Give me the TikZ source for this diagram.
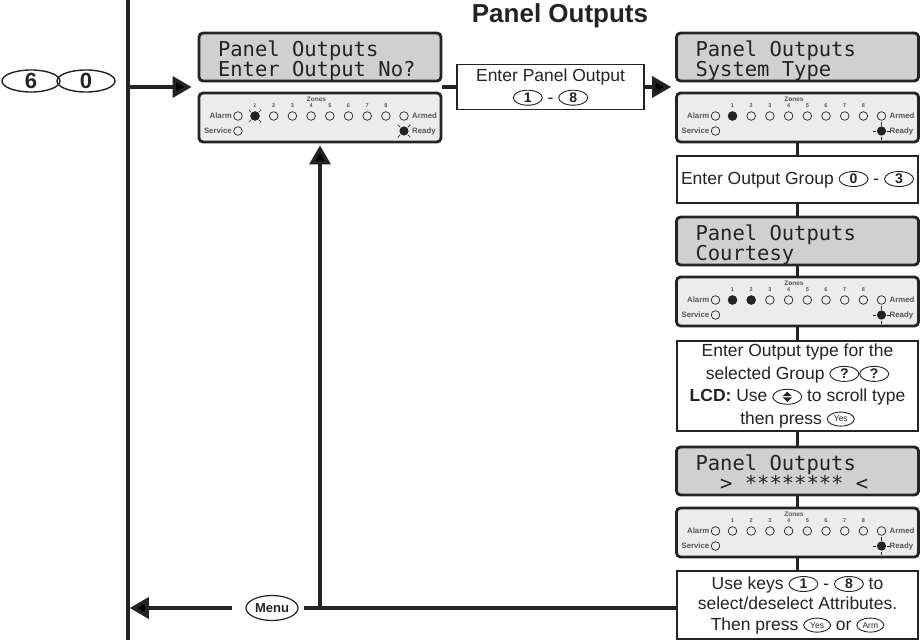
\documentclass[tikz,border=0pt]{standalone}
\usepackage{fontspec}
\setmainfont{Liberation Sans}
\newfontfamily\lcdfont{DejaVu Sans Mono}
\usepackage{tikz}
\usetikzlibrary{arrows.meta,shapes.geometric}

\definecolor{lcdgray}{RGB}{208,208,208}
\definecolor{ledgray}{RGB}{236,236,236}
\definecolor{ink}{RGB}{35,35,35}
\definecolor{labelgray}{RGB}{85,85,85}

\tikzset{
  keyoval/.style={ellipse,draw=ink,fill=white,line width=0.9pt,inner sep=0pt,
    minimum width=29pt,minimum height=15pt,text=ink,
    font=\bfseries\fontsize{14}{14}\selectfont},
  led/.style={draw=ink,line width=0.7pt},
  ray/.style={draw=ink,line width=0.7pt},
  zonetxt/.style={inner sep=0pt,text=labelgray,font=\bfseries\fontsize{6.5}{6.5}\selectfont},
  numtxt/.style={inner sep=0pt,text=labelgray,font=\bfseries\fontsize{5.5}{5.5}\selectfont},
  sidetxt/.style={inner sep=0pt,text=labelgray,font=\bfseries\fontsize{7.8}{7.8}\selectfont},
}

% one empty LCD character cell
\newcommand{\cell}{\hspace*{12.34pt}}

% keys printed inside the texts
\newcommand{\keycap}[1]{\tikz[baseline={([yshift=-0.5pt]k.base)}]\node[keyoval] (k) {#1};}
\newcommand{\smallkey}[1]{\tikz[baseline={([yshift=-2.3pt]k.base)}]\node[keyoval,minimum width=27pt,minimum height=14pt,font=\fontsize{8.5}{8.5}\selectfont] (k) {#1};}
\newcommand{\scrollkey}{\tikz[baseline={([yshift=-5pt]k.center)}]{%
  \node[keyoval] (k) {};
  \fill[ink] ([yshift=0.7pt]k.center) ++(-4.5pt,0pt) -- ++(4.5pt,4.5pt) -- ++(4.5pt,-4.5pt) -- cycle;
  \fill[ink] ([yshift=-0.7pt]k.center) ++(-4.5pt,0pt) -- ++(4.5pt,-4.5pt) -- ++(4.5pt,4.5pt) -- cycle;}}

% LED strip below a display: node, lit zones, flashing zones, first ray angle of Ready
\newcommand{\ledstrip}[4]{%
  \begin{scope}[shift={(#1.center)}]
    \node[zonetxt] at (-3.5,-18) {Zones};
    \foreach \z in {1,...,8} {
      \node[numtxt] at ({-65+(\z-1)*18.7},-11.5) {\z};
      \draw[led] ({-65+(\z-1)*18.7},-1.5) circle (4.3);
    }
    \foreach \z in {#2} {\ifnum\z>0 \fill[ink] ({-65+(\z-1)*18.7},-1.5) circle (4.6);\fi}
    \foreach \z in {#3} {\ifnum\z>0
      \fill[ink] ({-65+(\z-1)*18.7},-1.5) circle (4.6);
      \foreach \a in {45,135,225,315}
        \draw[ray] ({-65+(\z-1)*18.7},-1.5) ++(\a:5.5) -- ++(\a:3);
    \fi}
    \node[sidetxt,anchor=east] at (-88,-1.5) {Alarm};
    \draw[led] (-82,-1.5) circle (4.3);
    \draw[led] (84,-1.5) circle (4.3);
    \node[sidetxt,anchor=west] at (92,-1.5) {Armed};
    \node[sidetxt,anchor=east] at (-88,13.5) {Service};
    \draw[led] (-82,13.5) circle (4.3);
    \fill[ink] (84,13.5) circle (4.6);
    \foreach \a in {0,90,180,270}
      \draw[ray] (84,13.5) ++(\a+#4:5.5) -- ++(\a+#4:3.5);
    \node[sidetxt,anchor=west] at (92,13.5) {Ready};
  \end{scope}}

\begin{document}
\begin{tikzpicture}[x=1pt,y=-1pt,>={Triangle[length=19pt,width=21pt]},
  flow/.style={draw=ink,line width=3.6pt},
  lcd/.style={draw=ink,line width=2.8pt,rounded corners=4pt,fill=lcdgray,
    minimum width=242pt,minimum height=48pt,inner xsep=19pt,inner ysep=0pt,
    text width=204pt,text height=22pt,text depth=24pt,align=left,text=ink,
    font=\lcdfont\fontsize{20.5}{20}\selectfont},
  ledbox/.style={draw=ink,line width=2.8pt,rounded corners=4pt,fill=ledgray,
    minimum width=242pt,minimum height=49pt,inner sep=0pt},
  stepbox/.style={draw=ink,line width=1.3pt,fill=white,minimum width=241pt,
    inner sep=0pt,align=center,text=ink,font=\fontsize{17.5}{22}\selectfont},
  bigkey/.style={ellipse,draw=ink,line width=1.4pt,minimum width=58pt,minimum height=22pt,
    inner sep=0pt,text=ink,font=\bfseries\fontsize{22}{22}\selectfont},
  menukey/.style={ellipse,draw=ink,line width=1.2pt,minimum width=52pt,minimum height=25pt,
    inner sep=0pt,text=ink,font=\bfseries\fontsize{13}{13}\selectfont}]
  \useasboundingbox (0,0) rectangle (922,640);

  \node[anchor=base,text=ink,font=\bfseries\fontsize{26}{26}\selectfont] (title) at (560,22) {Panel Outputs};
  \node[bigkey] (keySix) at (31,81) {6};
  \node[bigkey] (keyZero) at (86,81) {0};

  % left column
  \node[lcd] (lcdA) at (320,57) {Panel\cell Outputs\\Enter\cell Output\cell No?};
  \node[ledbox] (panA) at (320,117.5) {};
  \ledstrip{panA}{0}{1}{45}
  \node[stepbox,minimum width=187pt,minimum height=45pt] (enterBox) at (550.5,87)
    {Enter Panel Output\\\keycap{1} - \keycap{8}};

  % right column
  \node[lcd] (lcdB) at (797.5,57) {Panel\cell Outputs\\System\cell Type};
  \node[ledbox] (panB) at (797.5,117.5) {};
  \ledstrip{panB}{1}{0}{0}
  \node[stepbox,minimum height=47pt] (grpBox) at (797.5,179.5)
    {Enter Output Group \keycap{0} - \keycap{3}};
  \node[lcd] (lcdC) at (797.5,241) {Panel\cell Outputs\\Courtesy};
  \node[ledbox] (panC) at (797.5,301.5) {};
  \ledstrip{panC}{1,2}{0}{0}
  \node[stepbox,minimum height=90pt,font=\fontsize{17.5}{22.5}\selectfont] (typeBox) at (797.5,386)
    {Enter Output type for the\\selected Group \keycap{?}\keycap{?}\\\textbf{LCD:} Use \scrollkey{} to scroll type\\then press \smallkey{Yes}};
  \node[lcd] (lcdD) at (797.5,471) {Panel\cell Outputs\\\cell\cell>\cell********\cell<};
  \node[ledbox] (panD) at (797.5,532.5) {};
  \ledstrip{panD}{0}{0}{0}
  \node[stepbox,minimum height=68pt,font=\fontsize{17.5}{20.5}\selectfont] (attrBox) at (797.5,605)
    {Use keys \keycap{1} - \keycap{8} to\\select/deselect Attributes.\\Then press \smallkey{Yes} or \smallkey{Arm}};
  \node[menukey] (menuKey) at (272,608) {Menu};

  % connectors
  \coordinate (railTop) at (128,0);
  \coordinate (railBot) at (128,640);
  \coordinate (gapA) at (320,87);
  \draw[flow] (railTop) -- (railBot);
  \draw[flow,->,shorten >=6pt] (railTop |- gapA) -- (lcdA.west |- gapA);
  \draw[flow] (panA.east |- gapA) -- (enterBox.west);
  \draw[flow,->,shorten >=4pt] (enterBox.east) -- (enterBox.east -| lcdB.west);
  \foreach \a/\b in {panB/grpBox,grpBox/lcdC,lcdC/panC,panC/typeBox,typeBox/lcdD,lcdD/panD,panD/attrBox}
    \draw[flow] (\a.south) -- (\b.north);
  \draw[flow,shorten >=5pt] (attrBox.west |- menuKey) -- (menuKey.east);
  \draw[flow,->,shorten <=13pt,shorten >=1.8pt] (menuKey.west) -- (railTop |- menuKey);
  \draw[flow,->,shorten >=2pt] (panA.south |- menuKey) -- (panA.south);
\end{tikzpicture}
\end{document}
